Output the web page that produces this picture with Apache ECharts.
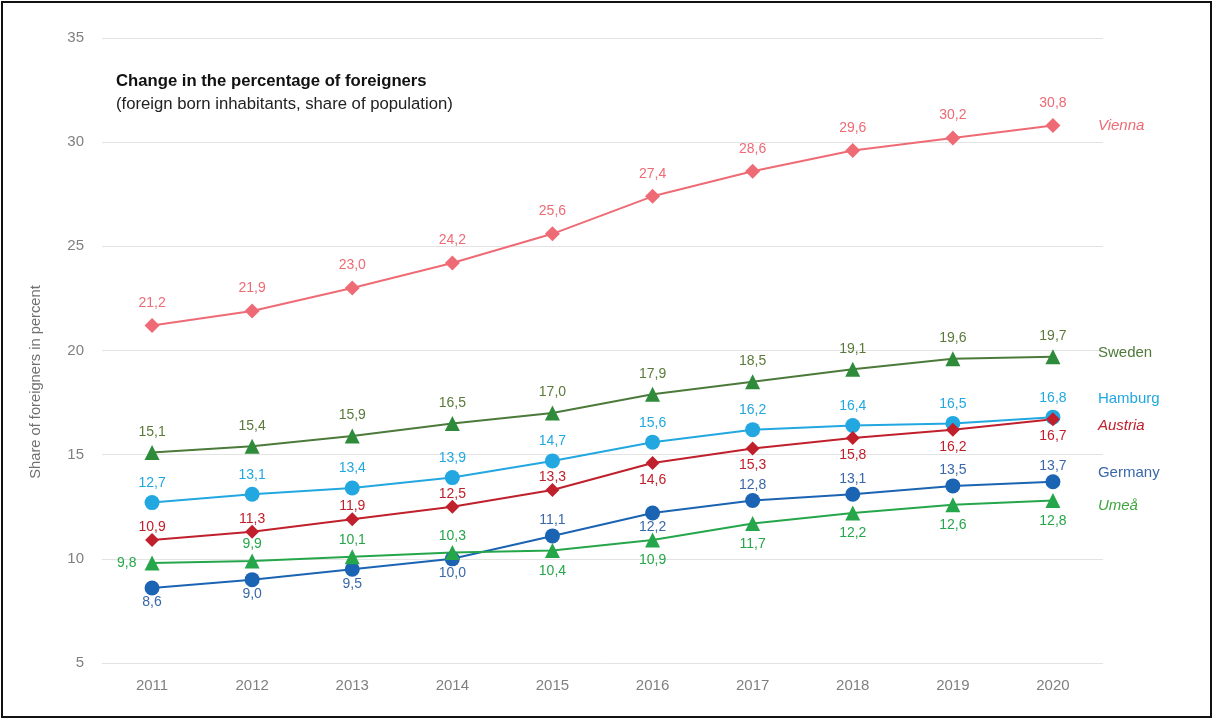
<!DOCTYPE html>
<html>
<head>
<meta charset="utf-8">
<script src="https://cdn.jsdelivr.net/npm/echarts@6/dist/echarts.min.js"></script>
<style>
html,body{margin:0;padding:0;background:#fff;}
#frame{position:absolute;left:1px;top:1px;width:1207px;height:713px;border:2px solid #111;box-sizing:content-box;}
#chart{position:absolute;left:0;top:0;width:1212px;height:719px;}
</style>
</head>
<body>
<div id="chart"></div>
<div id="frame"></div>
<script>
const years = ['2011','2012','2013','2014','2015','2016','2017','2018','2019','2020'];
const vienna  = [21.2, 21.9, 23.0, 24.2, 25.6, 27.4, 28.6, 29.6, 30.2, 30.8];
const sweden  = [15.1, 15.4, 15.9, 16.5, 17.0, 17.9, 18.5, 19.1, 19.6, 19.7];
const hamburg = [12.7, 13.1, 13.4, 13.9, 14.7, 15.6, 16.2, 16.4, 16.5, 16.8];
const austria = [10.9, 11.3, 11.9, 12.5, 13.3, 14.6, 15.3, 15.8, 16.2, 16.7];
const germany = [8.6, 9.0, 9.5, 10.0, 11.1, 12.2, 12.8, 13.1, 13.5, 13.7];
const umea    = [9.8, 9.9, 10.1, 10.3, 10.4, 10.9, 11.7, 12.2, 12.6, 12.8];
const yTicks = [5, 10, 15, 20, 25, 30, 35];

// label sides (T = above, B = below, L = left)
const sideVienna  = 'TTTTTTTTTT';
const sideSweden  = 'TTTTTTTTTT';
const sideHamburg = 'TTTTTTTTTT';
const sideAustria = 'TTTTTBBBBB';
const sideGermany = 'BBBBTBTTTT';
const sideUmea    = 'LTTTBBBBBB';

const FONT = '"Liberation Sans", Arial, sans-serif';
const posMap = {T:'top', B:'bottom', L:'left'};
const fmt = v => v.toFixed(1).replace('.', ',');

function mk(name, vals, sides, color, lineColor, textColor, symbol, size, dist, endColor, endItalic, endDy) {
  return {
    name: name,
    type: 'line',
    data: vals.map((v, i) => ({
      value: v,
      label: {position: posMap[sides[i]], distance: dist[sides[i]]}
    })),
    symbol: symbol,
    symbolSize: size,
    itemStyle: {color: color},
    lineStyle: {color: lineColor, width: 2},
    label: {show: true, formatter: p => fmt(p.value), color: textColor, fontSize: 14, fontFamily: FONT},
    endLabel: {
      show: true, formatter: name, color: endColor, fontSize: 15, fontFamily: FONT,
      fontStyle: endItalic ? 'italic' : 'normal', distance: 45, offset: [0, endDy]
    },
    emphasis: {disabled: true},
    animation: false,
    z: 2
  };
}

const chart = echarts.init(document.getElementById('chart'), null, {renderer: 'canvas'});
chart.setOption({
  backgroundColor: '#fff',
  animation: false,
  grid: {left: 102, right: 109, top: 38, bottom: 56},
  xAxis: {
    type: 'category', data: years, boundaryGap: true,
    axisLine: {show: false}, axisTick: {show: false},
    axisLabel: {color: '#808080', fontSize: 15, fontFamily: FONT, margin: 15}
  },
  yAxis: {
    type: 'value', min: yTicks[0], max: yTicks[yTicks.length-1], interval: 5,
    axisLine: {show: false}, axisTick: {show: false},
    axisLabel: {color: '#808080', fontSize: 15, fontFamily: FONT, margin: 18},
    splitLine: {lineStyle: {color: '#e3e3e3', width: 1}}
  },
  graphic: [
    {type: 'text', left: 116, top: 73, style: {text: 'Change in the percentage of foreigners', fontSize: 16.7, fontWeight: 'bold', fontFamily: FONT, fill: '#111'}},
    {type: 'text', left: 116, top: 96, style: {text: '(foreign born inhabitants, share of population)', fontSize: 16.7, fontFamily: FONT, fill: '#222'}},
    {type: 'text', x: 28, y: 382, rotation: Math.PI/2, style: {text: 'Share of foreigners in percent', fontSize: 14.7, fontFamily: FONT, fill: '#707070', align: 'center', verticalAlign: 'top'}}
  ],
  series: [
    mk('Vienna', vienna, sideVienna, '#EE6B75', '#EE6B75', '#EE6B75', 'diamond', 15, {T: 8, B: 5, L: 8}, '#EE6B75', true, 0),
    mk('Sweden', sweden, sideSweden, '#2E8B3A', '#4C7A3A', '#5A7A3A', 'triangle', 15, {T: 6, B: 5, L: 8}, '#4E7A3A', false, -4),
    mk('Hamburg', hamburg, sideHamburg, '#22A7E0', '#22A7E0', '#22A7E0', 'circle', 15, {T: 5, B: 5, L: 8}, '#22A7E0', false, -18),
    mk('Austria', austria, sideAustria, '#C0202B', '#C0202B', '#C0202B', 'diamond', 14, {T: -1, B: 3, L: 8}, '#C0202B', true, 7),
    mk('Germany', germany, sideGermany, '#1B63B3', '#1B63B3', '#3A68A8', 'circle', 15, {T: 1, B: 0, L: 8}, '#3A68A8', false, -9),
    mk('Umeå', umea, sideUmea, '#26A64A', '#26A64A', '#26A64A', 'triangle', 15, {T: 2, B: 6, L: 8}, '#3FA63F', true, 5)
  ]
});
</script>
</body>
</html>
